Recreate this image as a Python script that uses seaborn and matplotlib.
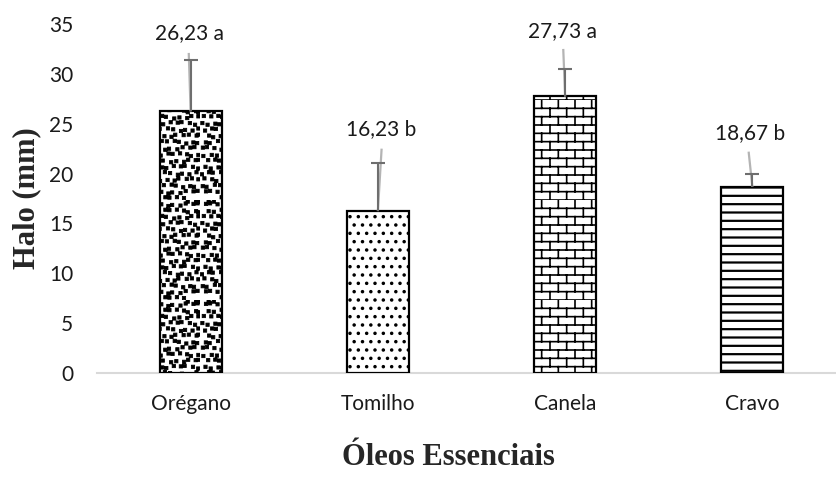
import warnings
import numpy as np
import pandas as pd
import matplotlib
matplotlib.use("Agg")
import matplotlib.pyplot as plt
import matplotlib.hatch as mhatch
from matplotlib.path import Path
import seaborn as sns

# Data
oils = ["Orégano", "Tomilho", "Canela", "Cravo"]
halo = [26.23, 16.23, 27.73, 18.67]
halo_err = [5.2, 4.8, 2.8, 1.3]
groups = ["a", "b", "a", "b"]
y_ticks = [0, 5, 10, 15, 20, 25, 30, 35]


class BrickHatch(mhatch.HatchPatternBase):
    """Staggered brick-wall hatch, selected with the letter 'B'."""

    def __init__(self, hatch, density):
        n = hatch.count("B")
        self.num_rows = int(n * density * 2)
        self.num_bricks = self.num_rows // 2
        self.num_vertices = (self.num_rows * 2
                             + self.num_rows * self.num_bricks * 2)

    def set_vertices_and_codes(self, vertices, codes):
        verts = []
        h = 1.0 / self.num_rows
        w = 1.0 / self.num_bricks
        for k in range(self.num_rows):
            y = k * h
            verts += [(0.0, y), (1.0, y)]
        for k in range(self.num_rows):
            y0, y1 = k * h, (k + 1) * h
            off = 0.5 * w if k % 2 else 0.0
            for j in range(self.num_bricks):
                x = j * w + off
                verts += [(x, y0), (x, y1)]
        vertices[:] = np.array(verts)
        codes[0::2] = Path.MOVETO
        codes[1::2] = Path.LINETO


class ConfettiHatch(mhatch.HatchPatternBase):
    """Small filled squares on a shuffled grid, selected with the letter 'Q'."""

    def __init__(self, hatch, density):
        n = hatch.count("Q")
        self.num_rows = int(n * density * 2.7)
        self.num_vertices = self.num_rows * self.num_rows * 5

    def set_vertices_and_codes(self, vertices, codes):
        n = self.num_rows
        step = 1.0 / n
        size = 0.52 * step
        shifts = [-0.22, 0.12, -0.05, 0.2, -0.15, 0.05, 0.18]
        verts = []
        for k in range(n):
            for j in range(n):
                dx = shifts[(3 * k + j) % len(shifts)] * step
                dy = shifts[(k + 2 * j) % len(shifts)] * step
                cx = (j + 0.5 * (k % 2)) * step + dx
                cy = k * step + dy
                x0, y0 = cx % 1.0, cy % 1.0
                x0 = min(x0, 1.0 - size)
                y0 = min(y0, 1.0 - size)
                verts += [(x0, y0), (x0 + size, y0), (x0 + size, y0 + size),
                          (x0, y0 + size), (x0, y0)]
        vertices[:] = np.array(verts)
        codes[:] = np.tile([Path.MOVETO, Path.LINETO, Path.LINETO,
                            Path.LINETO, Path.CLOSEPOLY], n * n)


mhatch._hatch_types.extend([BrickHatch, ConfettiHatch])
warnings.filterwarnings("ignore")

sns.set_theme(style="white")
plt.rcParams["font.family"] = ["Lato", "DejaVu Sans"]
plt.rcParams["hatch.color"] = "black"

df = pd.DataFrame({"oil": oils, "halo": halo})

fig = plt.figure(figsize=(8.36, 4.78), dpi=100)
ax = fig.add_axes([97 / 836, 105 / 478, 749 / 836, 349 / 478])

sns.barplot(data=df, x="oil", y="halo", order=oils, color="white",
            width=0.33, edgecolor="black", linewidth=1.6, ax=ax,
            errorbar=None, zorder=2)

hatches = ["Q", "..", "B", "--"]
hatch_lw = [0.6, 1.3, 1.2, 1.6]
for patch, hp, lw in zip(ax.patches, hatches, hatch_lw):
    patch.set_hatch(hp)
    if hasattr(patch, "set_hatch_linewidth"):
        patch.set_hatch_linewidth(lw)

x = np.arange(len(oils))

# data-label leader lines (from bar top to below the label)
leader_tip_x = [-0.01, 1.02, 1.99, 2.98]
leader_tip_y = [32.1, 22.5, 32.5, 22.2]
for xi, h, tx, ty in zip(x, halo, leader_tip_x, leader_tip_y):
    ax.plot([xi, tx], [h, ty], color="#b4b4b4", lw=1.6, zorder=3,
            solid_capstyle="butt")

# one-sided (upper) error bars
eb = ax.errorbar(x, halo, yerr=[np.zeros(len(halo)), halo_err], fmt="none",
                 ecolor="#6e6e6e", elinewidth=1.5, capsize=5, capthick=1.5,
                 zorder=4)
for cl in eb[1]:
    if np.allclose(cl.get_ydata(), halo):
        cl.set_visible(False)

# value labels with significance letters
label_x = [-0.005, 1.02, 1.985, 2.985]
label_y = [34.1, 24.5, 34.3, 24.1]
for lx, ly, v, g in zip(label_x, label_y, halo, groups):
    ax.text(lx, ly, f"{v:.2f}".replace(".", ",") + f" {g}", ha="center",
            va="center", fontsize=15, color="#1a1a1a", zorder=5)

ax.set_xlim(-0.5, len(oils) - 0.5)
ax.set_ylim(0, 35)
ax.set_yticks(y_ticks)
ax.set_yticklabels([str(t) for t in y_ticks])
ax.tick_params(axis="both", length=0, labelsize=15, colors="#1a1a1a")
ax.tick_params(axis="x", pad=15)
ax.tick_params(axis="y", pad=17)

for side in ["left", "right", "top"]:
    ax.spines[side].set_visible(False)
ax.spines["bottom"].set_color("#d9d9d9")
ax.spines["bottom"].set_linewidth(1.5)
ax.spines["bottom"].set_zorder(1)

ax.set_ylabel("Halo (mm)", fontsize=22, fontweight="bold",
              family=["Liberation Serif", "DejaVu Serif"], va="center")
ax.yaxis.set_label_coords(-0.0935, 0.501)
ax.set_xlabel("Óleos Essenciais", fontsize=22, fontweight="bold",
              family=["Liberation Serif", "DejaVu Serif"], va="center")
ax.xaxis.set_label_coords(0.469, -0.241)

fig.savefig("out.png", dpi=100)
